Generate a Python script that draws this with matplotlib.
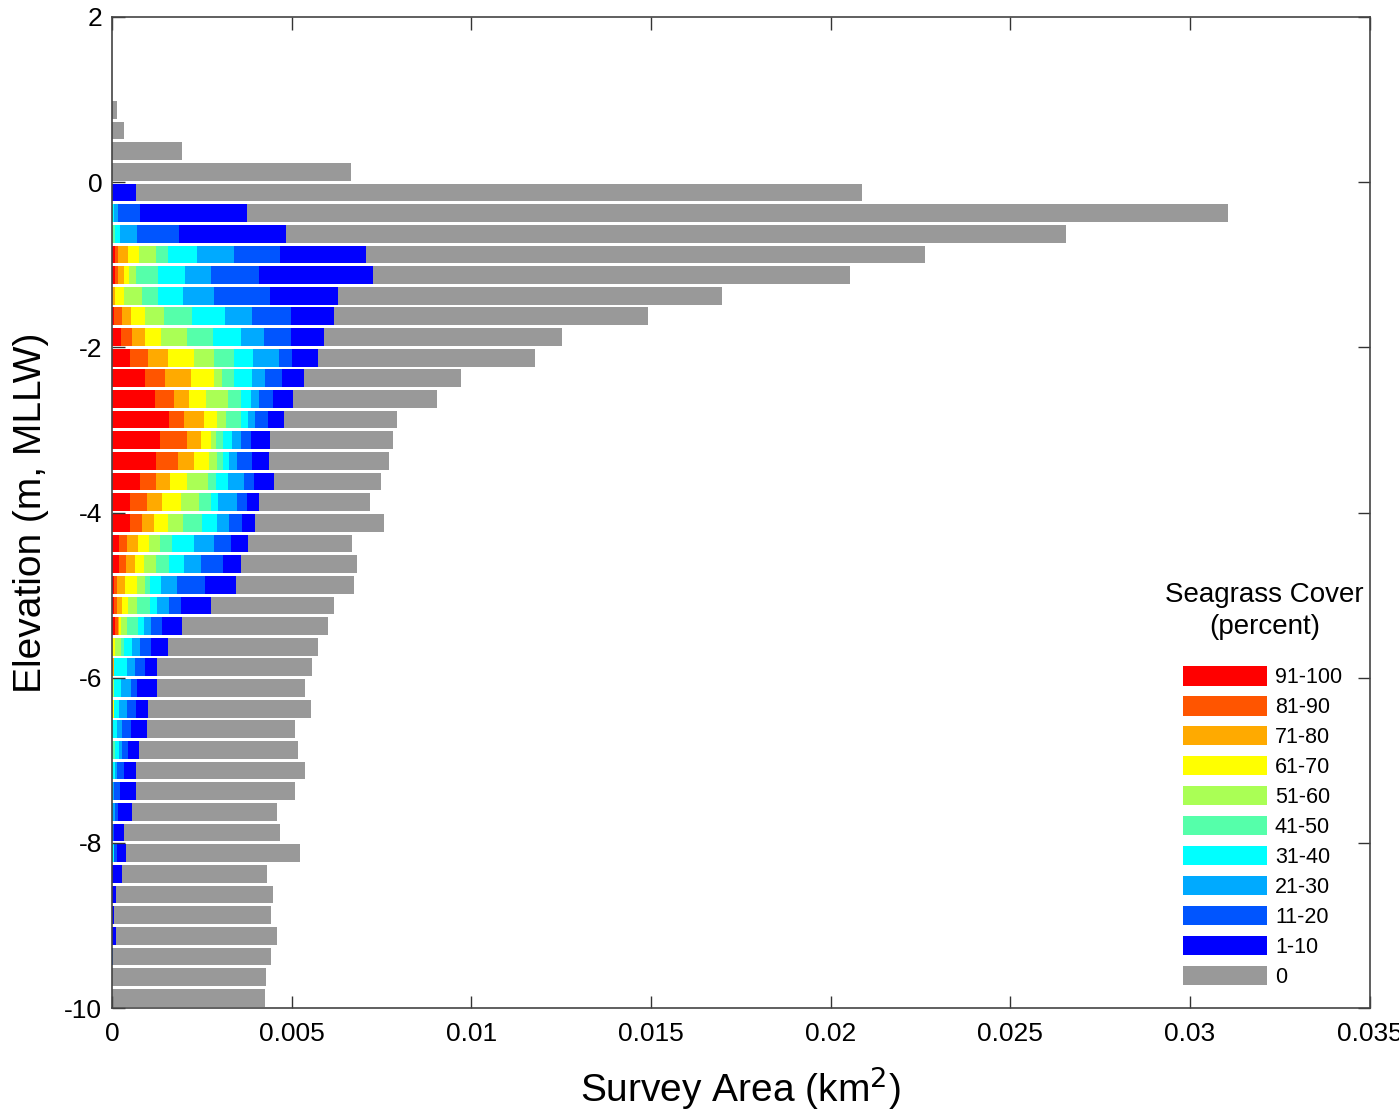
import matplotlib
matplotlib.use('Agg')
import matplotlib.pyplot as plt
import numpy as np

plt.rcParams['font.family'] = ['Liberation Sans', 'DejaVu Sans']
plt.rcParams['axes.unicode_minus'] = False

# Elevation bin centres (m, MLLW), 0.25 m bins from the top down
elevation = [0.875, 0.625, 0.375, 0.125,
             -0.125, -0.375, -0.625, -0.875, -1.125, -1.375, -1.625, -1.875,
             -2.125, -2.375, -2.625, -2.875, -3.125, -3.375, -3.625, -3.875,
             -4.125, -4.375, -4.625, -4.875, -5.125, -5.375, -5.625, -5.875,
             -6.125, -6.375, -6.625, -6.875, -7.125, -7.375, -7.625, -7.875,
             -8.125, -8.375, -8.625, -8.875, -9.125, -9.375, -9.625, -9.875]

# Survey area (km^2) in each elevation bin per seagrass cover class
cover_91_100 = [0, 0, 0, 0,
                0, 0, 0, 0.00008, 0.00008, 0, 0.00006, 0.00024,
                0.00051, 0.00093, 0.00119, 0.00159, 0.00133, 0.00122, 0.00077, 0.00051,
                0.00051, 0.00019, 0.00021, 0.00006, 0.00006, 0.00008, 0, 0,
                0, 0, 0, 0, 0, 0, 0, 0,
                0, 0, 0, 0, 0, 0, 0, 0]
cover_81_90 = [0, 0, 0, 0,
               0, 0, 0, 0.00008, 0.00009, 0, 0.00021, 0.00031,
               0.00049, 0.00056, 0.00053, 0.00042, 0.00076, 0.00062, 0.00045, 0.00046,
               0.00033, 0.00024, 0.00019, 0.00009, 0.00007, 0.00009, 0, 0,
               0, 0, 0, 0, 0, 0, 0, 0,
               0, 0, 0, 0, 0, 0, 0, 0]
cover_71_80 = [0, 0, 0, 0,
               0, 0, 0, 0.00028, 0.00017, 0.00008, 0.00026, 0.00037,
               0.00056, 0.00070, 0.00043, 0.00056, 0.00038, 0.00045, 0.00041, 0.00042,
               0.00034, 0.00030, 0.00023, 0.00022, 0.00014, 0.00003, 0, 0.00005,
               0, 0, 0, 0, 0, 0, 0, 0,
               0, 0, 0, 0, 0, 0, 0, 0]
cover_61_70 = [0, 0, 0, 0,
               0, 0, 0, 0.00031, 0.00013, 0.00025, 0.00039, 0.00045,
               0.00072, 0.00065, 0.00046, 0.00035, 0.00030, 0.00042, 0.00045, 0.00052,
               0.00037, 0.00031, 0.00026, 0.00033, 0.00017, 0.00004, 0.00009, 0,
               0, 0.00005, 0, 0, 0, 0, 0, 0,
               0, 0, 0, 0, 0, 0, 0, 0]
cover_51_60 = [0, 0, 0, 0,
               0, 0, 0.00003, 0.00049, 0.00021, 0.00051, 0.00053, 0.00072,
               0.00056, 0.00022, 0.00063, 0.00025, 0.00014, 0.00021, 0.00060, 0.00051,
               0.00042, 0.00031, 0.00033, 0.00022, 0.00025, 0.00017, 0.00017, 0,
               0.00005, 0, 0, 0, 0, 0, 0, 0,
               0, 0, 0, 0, 0, 0, 0, 0]
cover_41_50 = [0, 0, 0, 0,
               0, 0, 0.00005, 0.00031, 0.00060, 0.00045, 0.00079, 0.00073,
               0.00056, 0.00035, 0.00035, 0.00042, 0.00018, 0.00016, 0.00023, 0.00033,
               0.00054, 0.00032, 0.00037, 0.00014, 0.00037, 0.00032, 0.00009, 0,
               0, 0, 0, 0.00009, 0, 0, 0, 0,
               0, 0, 0, 0, 0, 0, 0, 0]
cover_31_40 = [0, 0, 0, 0,
               0, 0.00006, 0.00014, 0.00081, 0.00074, 0.00068, 0.00091, 0.00077,
               0.00053, 0.00048, 0.00028, 0.00021, 0.00026, 0.00019, 0.00031, 0.00020,
               0.00041, 0.00062, 0.00042, 0.00031, 0.00019, 0.00016, 0.00020, 0.00037,
               0.00019, 0.00014, 0.00014, 0.00012, 0.00008, 0, 0, 0,
               0.00005, 0, 0, 0, 0, 0, 0, 0]
cover_21_30 = [0, 0, 0, 0,
               0, 0.00011, 0.00049, 0.00105, 0.00074, 0.00088, 0.00074, 0.00065,
               0.00072, 0.00038, 0.00021, 0.00019, 0.00023, 0.00021, 0.00046, 0.00053,
               0.00035, 0.00056, 0.00046, 0.00045, 0.00035, 0.00021, 0.00023, 0.00021,
               0.00029, 0.00024, 0.00014, 0.00006, 0.00005, 0.00006, 0.00008, 0,
               0, 0, 0, 0, 0, 0, 0, 0]
cover_11_20 = [0, 0, 0, 0,
               0, 0.00060, 0.00115, 0.00127, 0.00134, 0.00155, 0.00109, 0.00074,
               0.00035, 0.00046, 0.00039, 0.00034, 0.00030, 0.00043, 0.00027, 0.00029,
               0.00035, 0.00045, 0.00061, 0.00078, 0.00033, 0.00030, 0.00032, 0.00030,
               0.00016, 0.00025, 0.00024, 0.00019, 0.00020, 0.00016, 0.00009, 0.00005,
               0.00008, 0, 0, 0, 0, 0.00004, 0, 0]
cover_1_10 = [0, 0, 0, 0,
              0.00068, 0.00300, 0.00298, 0.00239, 0.00316, 0.00190, 0.00119, 0.00091,
              0.00074, 0.00062, 0.00057, 0.00047, 0.00051, 0.00047, 0.00056, 0.00032,
              0.00037, 0.00048, 0.00050, 0.00084, 0.00083, 0.00054, 0.00045, 0.00032,
              0.00057, 0.00033, 0.00045, 0.00029, 0.00033, 0.00044, 0.00040, 0.00028,
              0.00025, 0.00028, 0.00010, 0.00006, 0.00012, 0, 0, 0]
cover_0 = [0.00015, 0.00034, 0.00195, 0.00665,
           0.02018, 0.02728, 0.02171, 0.01557, 0.01328, 0.01068, 0.00876, 0.00664,
           0.00603, 0.00437, 0.00402, 0.00314, 0.00343, 0.00334, 0.00298, 0.00308,
           0.00359, 0.00289, 0.00323, 0.00331, 0.00341, 0.00408, 0.00419, 0.00432,
           0.00411, 0.00454, 0.00413, 0.00442, 0.00471, 0.00443, 0.00402, 0.00434,
           0.00485, 0.00404, 0.00438, 0.00437, 0.00447, 0.00438, 0.00430, 0.00427]

classes = ['91-100', '81-90', '71-80', '61-70', '51-60', '41-50',
           '31-40', '21-30', '11-20', '1-10', '0']
series = [cover_91_100, cover_81_90, cover_71_80, cover_61_70, cover_51_60,
          cover_41_50, cover_31_40, cover_21_30, cover_11_20, cover_1_10, cover_0]
colors = ['#FF0000', '#FF5500', '#FFAA00', '#FFFF00', '#AAFF55', '#55FFAA',
          '#00FFFF', '#00AAFF', '#0055FF', '#0000FF', '#999999']

xticks = [0, 0.005, 0.01, 0.015, 0.02, 0.025, 0.03, 0.035]
xticklabels = ['0', '0.005', '0.01', '0.015', '0.02', '0.025', '0.03', '0.035']
yticks = [2, 0, -2, -4, -6, -8, -10]

fig = plt.figure(figsize=(13.99, 11.11), dpi=100)
ax = fig.add_axes([0.080, 0.0927, 0.899, 0.892])

left = np.zeros(len(elevation))
for lab, vals, col in zip(classes, series, colors):
    vals = np.array(vals)
    ax.barh(elevation, vals, left=left, height=0.215, color=col,
            edgecolor='none', label=lab)
    left += vals

ax.set_xlim(0, 0.035)
ax.set_ylim(-10, 2)
ax.set_xticks(xticks)
ax.set_xticklabels(xticklabels)
ax.set_yticks(yticks)
ax.set_yticklabels([str(t) for t in yticks])
ax.tick_params(direction='in', top=True, right=True, length=9, width=1,
               labelsize=19, pad=7, color='#333333')
ax.tick_params(axis='x', pad=10)
for sp in ax.spines.values():
    sp.set_color('#444444')
    sp.set_linewidth(1.2)

ax.set_xlabel('Survey Area (km$^2$)', fontsize=28, labelpad=13)
ax.set_ylabel('Elevation (m, MLLW)', fontsize=28, labelpad=11)

fig.text(0.904, 1 - 611 / 1111, 'Seagrass Cover\n(percent)', ha='center',
         va='center', fontsize=20, linespacing=1.3)
leg = ax.legend(loc='lower left', bbox_to_anchor=(1183 / 1399, 1 - 988 / 1111),
                bbox_transform=fig.transFigure, frameon=False, fontsize=15.5,
                handlelength=3.9, handleheight=1.0, handletextpad=0.37,
                labelspacing=0.37, borderpad=0, borderaxespad=0)

fig.savefig('out.png', dpi=100)
